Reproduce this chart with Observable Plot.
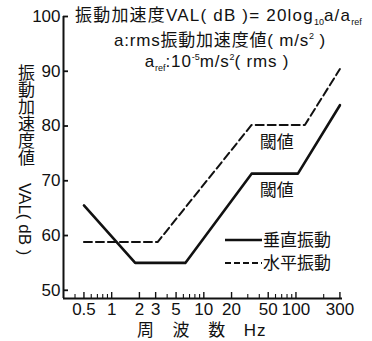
<!DOCTYPE html>
<html><head><meta charset="utf-8">
<script src="https://cdn.jsdelivr.net/npm/d3@7"></script>
<script src="https://cdn.jsdelivr.net/npm/@observablehq/plot@0.6"></script>
<style>
body{margin:0;background:#fff;}
#wrap{position:relative;width:372px;height:341px;font-family:"Liberation Sans","Noto Sans CJK JP",sans-serif;color:#111;overflow:hidden;}
.t{position:absolute;white-space:nowrap;font-size:17px;line-height:20px;letter-spacing:0.8px;}
.c{transform:translateX(-50%);}
sub,sup{font-size:9px;line-height:0;letter-spacing:0;}
#ytitle{position:absolute;left:15px;top:64px;writing-mode:vertical-rl;font-size:17px;line-height:18px;white-space:nowrap;}
svg.ov{position:absolute;left:0;top:0;}
</style></head><body><div id="wrap"></div>
<script>
// data
const freqV = [0.5, 1.8, 6.3, 33, 105, 300];   // 垂直振動 (Hz)
const valV  = [65.5, 55, 55, 71.3, 71.3, 83.8]; // dB
const freqH = [0.5, 3.15, 33, 125, 300];       // 水平振動 (Hz)
const valH  = [58.8, 58.8, 80.2, 80.2, 90.4];  // dB
const yTicks = [50, 60, 70, 80, 90, 100];
const xLabelTicks = [0.5, 1, 2, 3, 5, 10, 20, 50, 100, 300];
const xMinorTicks = [0.4, 0.6, 0.7, 0.8, 0.9, 4, 6, 7, 8, 9, 30, 40, 60, 70, 80, 90, 200];
const noteText = ["閾値", "閾値"];
const noteFreq = [62, 62];
const noteDb = [77, 68.2];
const legendNames = ["垂直振動", "水平振動"];

const V = freqV.map((f, i) => ({f, v: valV[i]}));
const H = freqH.map((f, i) => ({f, v: valH[i]}));
const notes = noteText.map((t, i) => ({t, f: noteFreq[i], v: noteDb[i]}));

const W = 372, Ht = 341, mL = 63, mR = 30, mT = 16, mB = 43;
const xDom = [0.3, 320], yDom = [48.5, 100];
const pxPerDb = (Ht - mT - mB) / (yDom[1] - yDom[0]);
const pxPerDec = (W - mL - mR) / Math.log10(xDom[1] / xDom[0]);
const dbLen = px => px / pxPerDb;             // tick length in y units
const xLenEnd = px => xDom[0] * Math.pow(10, px / pxPerDec);

const font = '"Liberation Sans","Noto Sans CJK JP",sans-serif';
const plot = Plot.plot({
  width: W, height: Ht,
  marginLeft: mL, marginRight: mR, marginTop: mT, marginBottom: mB,
  style: {fontFamily: font, fontSize: "17px", color: "#111", background: "white"},
  x: {type: "log", domain: xDom, axis: null},
  y: {domain: yDom, axis: null},
  marks: [
    // x ticks (inward) and labels
    Plot.ruleX(xLabelTicks, {x: d => d, y1: yDom[0], y2: yDom[0] + dbLen(6), stroke: "#111", strokeWidth: 1.4}),
    Plot.ruleX(xMinorTicks, {x: d => d, y1: yDom[0], y2: yDom[0] + dbLen(4), stroke: "#111", strokeWidth: 1.1}),
    Plot.text(xLabelTicks, {x: d => d, y: yDom[0], text: d => String(d), lineAnchor: "top", dy: 4, fontSize: 17, fill: "#111"}),
    // y ticks (inward) and labels
    Plot.ruleY(yTicks, {y: d => d, x1: xDom[0], x2: xLenEnd(5), stroke: "#111", strokeWidth: 1.8}),
    Plot.text(yTicks, {x: xDom[0], y: d => d, text: d => String(d), textAnchor: "end", dx: -3, fontSize: 17, fill: "#111"}),
    // axis lines
    Plot.ruleX([xDom[0]], {stroke: "#111", strokeWidth: 2}),
    Plot.ruleY([yDom[0]], {stroke: "#111", strokeWidth: 2}),
    // series
    Plot.line(H, {x: "f", y: "v", stroke: "#111", strokeWidth: 2, strokeDasharray: "8,4"}),
    Plot.line(V, {x: "f", y: "v", stroke: "#111", strokeWidth: 2.6}),
    Plot.text(notes, {x: "f", y: "v", text: "t", fontSize: 17, fill: "#111", fontFamily: '"Noto Sans CJK JP",sans-serif'})
  ]
});
const wrap = document.getElementById("wrap");
wrap.appendChild(plot);

// titles
function addDiv(html, cls, left, top, ls) {
  const d = document.createElement("div");
  d.className = "t " + cls;
  d.style.left = left + "px"; d.style.top = top + "px";
  if (ls != null) d.style.letterSpacing = ls + "px";
  d.innerHTML = html;
  wrap.appendChild(d);
}
addDiv("振動加速度VAL( dB )= 20log<sub>10</sub>a/a<sub>ref</sub>", "", 75, 6, 1.2);
addDiv("a:rms振動加速度値( m/s<sup>2</sup> )", "c", 220, 31);
addDiv("a<sub>ref</sub>:10<sup>-5</sup>m/s<sup>2</sup>( rms )", "c", 217, 52);
const yt = document.createElement("div");
yt.id = "ytitle"; yt.textContent = "振動加速度値　VAL( dB )";
wrap.appendChild(yt);
addDiv("周　波　数　Hz", "", 137, 321);

// legend
const lg = d3.select(wrap).append("svg").attr("class", "ov").attr("width", W).attr("height", Ht);
const lgY = [240, 263];
lg.append("line").attr("x1", 225).attr("x2", 262).attr("y1", lgY[0]).attr("y2", lgY[0]).attr("stroke", "#111").attr("stroke-width", 2.4);
lg.append("line").attr("x1", 225).attr("x2", 262).attr("y1", lgY[1]).attr("y2", lgY[1]).attr("stroke", "#111").attr("stroke-width", 1.8).attr("stroke-dasharray", "6,3");
legendNames.forEach((n, i) => {
  lg.append("text").attr("x", 263).attr("y", lgY[i]).attr("dy", "0.36em").attr("font-size", 17)
    .attr("font-family", '"Noto Sans CJK JP",sans-serif').attr("fill", "#111").text(n);
});
</script></body></html>
